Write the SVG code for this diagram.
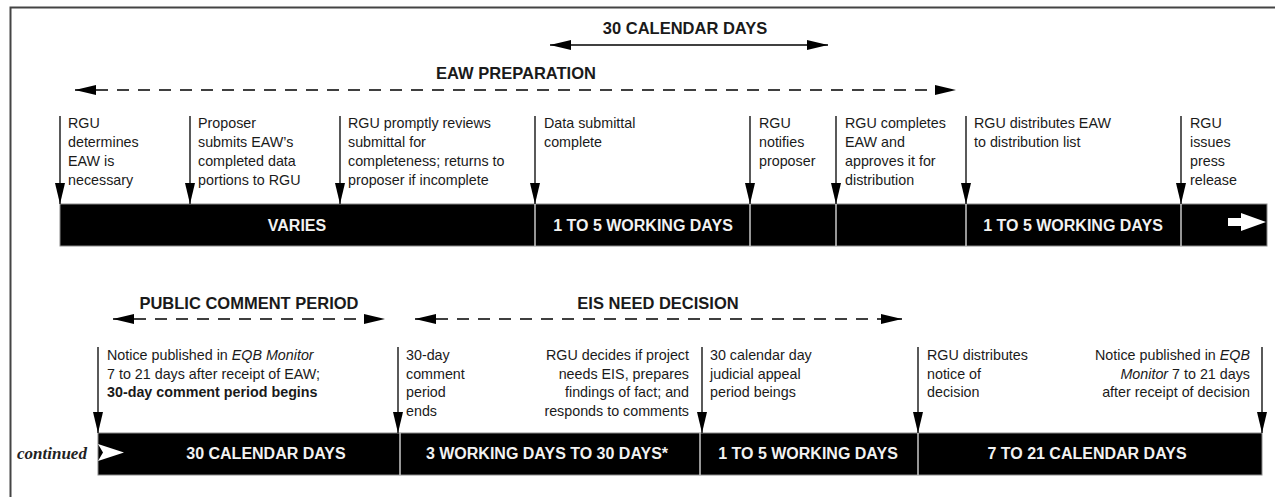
<svg xmlns="http://www.w3.org/2000/svg" width="1275" height="497" viewBox="0 0 1275 497">
<style>
.t{font-family:"Liberation Sans",Arial,sans-serif;font-size:14.3px;fill:#1a1a1a}
.h{font-family:"Liberation Sans",Arial,sans-serif;font-size:16.5px;font-weight:bold;fill:#1a1a1a;text-anchor:middle}
.bl{font-family:"Liberation Sans",Arial,sans-serif;font-size:16px;font-weight:bold;fill:#f2f2f2;text-anchor:middle}
.bar{fill:#000;stroke:#8a8a8a;stroke-width:1}
.div{stroke:#c8c8c8;stroke-width:1.5}
.v{stroke:#000;stroke-width:1.3;fill:none;marker-end:url(#ah)}
.d{stroke:#000;stroke-width:1.6;fill:none;stroke-dasharray:12 9;marker-start:url(#ah);marker-end:url(#ah)}
.s{stroke:#000;stroke-width:1.6;fill:none;marker-start:url(#ah);marker-end:url(#ah)}
.e{text-anchor:end}
</style>
<defs>
<marker id="ah" viewBox="0 0 21 10" markerWidth="21" markerHeight="10" refX="21" refY="5" orient="auto-start-reverse" markerUnits="userSpaceOnUse">
<path d="M0,0 L21,5 L0,10 z" fill="#000"/>
</marker>
</defs>
<rect width="1275" height="497" fill="#fff"/>
<g id="frame" stroke="#444" stroke-width="2" fill="none">
<path d="M10.5,497 V7.5 H1275"/>
</g>

<g id="top-bar">
<rect class="bar" x="60" y="204" width="1207" height="42"/>
<line class="div" x1="535" y1="204" x2="535" y2="246"/>
<line class="div" x1="750" y1="204" x2="750" y2="246"/>
<line class="div" x1="836" y1="204" x2="836" y2="246"/>
<line class="div" x1="966" y1="204" x2="966" y2="246"/>
<line class="div" x1="1181" y1="204" x2="1181" y2="246"/>
<text class="bl" x="297" y="231">VARIES</text>
<text class="bl" x="643" y="231">1 TO 5 WORKING DAYS</text>
<text class="bl" x="1073" y="231">1 TO 5 WORKING DAYS</text>
<path d="M1228,218 H1241 V213 L1266,222 L1241,231 V226 H1228 Z" fill="#fff"/>
</g>

<g id="bottom-bar">
<rect class="bar" x="98" y="433" width="1164" height="42"/>
<line class="div" x1="400" y1="433" x2="400" y2="475"/>
<line class="div" x1="700" y1="433" x2="700" y2="475"/>
<line class="div" x1="918" y1="433" x2="918" y2="475"/>
<text class="bl" x="266" y="459">30 CALENDAR DAYS</text>
<text class="bl" x="547" y="459">3 WORKING DAYS TO 30 DAYS*</text>
<text class="bl" x="808" y="459">1 TO 5 WORKING DAYS</text>
<text class="bl" x="1087" y="459">7 TO 21 CALENDAR DAYS</text>
<path d="M98,444 L124,452.5 L98,461 L103,452.5 Z" fill="#fff"/>
<text x="17" y="459" font-family="'Liberation Serif','Times New Roman',serif" font-size="17" font-style="italic" font-weight="bold" fill="#222">continued</text>
</g>

<g id="spans">
<text class="h" x="685" y="34">30 CALENDAR DAYS</text>
<text class="h" x="516" y="79">EAW PREPARATION</text>
<text class="h" x="249" y="309">PUBLIC COMMENT PERIOD</text>
<text class="h" x="658" y="309">EIS NEED DECISION</text>
</g>

<g id="connectors">
<line class="s" x1="550" y1="45" x2="828" y2="45"/>
<line class="d" x1="75" y1="90" x2="956" y2="90"/>
<line class="d" x1="113" y1="319" x2="385" y2="319"/>
<line class="d" x1="415" y1="319" x2="902" y2="319"/>
<line class="v" x1="60" y1="116" x2="60" y2="204"/>
<line class="v" x1="190" y1="116" x2="190" y2="204"/>
<line class="v" x1="340" y1="116" x2="340" y2="204"/>
<line class="v" x1="535" y1="116" x2="535" y2="204"/>
<line class="v" x1="750" y1="116" x2="750" y2="204"/>
<line class="v" x1="836" y1="116" x2="836" y2="204"/>
<line class="v" x1="966" y1="116" x2="966" y2="204"/>
<line class="v" x1="1181" y1="116" x2="1181" y2="204"/>
<line class="v" x1="98" y1="347" x2="98" y2="433"/>
<line class="v" x1="398" y1="347" x2="398" y2="433"/>
<line class="v" x1="702" y1="347" x2="702" y2="433"/>
<line class="v" x1="918" y1="347" x2="918" y2="433"/>
<line class="v" x1="1262" y1="347" x2="1262" y2="433"/>
</g>

<g id="ev1"><text class="t" x="68" y="128"><tspan x="68">RGU</tspan><tspan x="68" dy="19">determines</tspan><tspan x="68" dy="19">EAW is</tspan><tspan x="68" dy="19">necessary</tspan></text></g>
<g id="ev2"><text class="t" x="198" y="128"><tspan x="198">Proposer</tspan><tspan x="198" dy="19">submits EAW’s</tspan><tspan x="198" dy="19">completed data</tspan><tspan x="198" dy="19">portions to RGU</tspan></text></g>
<g id="ev3"><text class="t" x="348" y="128"><tspan x="348">RGU promptly reviews</tspan><tspan x="348" dy="19">submittal for</tspan><tspan x="348" dy="19">completeness; returns to</tspan><tspan x="348" dy="19">proposer if incomplete</tspan></text></g>
<g id="ev4"><text class="t" x="544" y="128"><tspan x="544">Data submittal</tspan><tspan x="544" dy="19">complete</tspan></text></g>
<g id="ev5"><text class="t" x="759" y="128"><tspan x="759">RGU</tspan><tspan x="759" dy="19">notifies</tspan><tspan x="759" dy="19">proposer</tspan></text></g>
<g id="ev6"><text class="t" x="845" y="128"><tspan x="845">RGU completes</tspan><tspan x="845" dy="19">EAW and</tspan><tspan x="845" dy="19">approves it for</tspan><tspan x="845" dy="19">distribution</tspan></text></g>
<g id="ev7"><text class="t" x="974" y="128"><tspan x="974">RGU distributes EAW</tspan><tspan x="974" dy="19">to distribution list</tspan></text></g>
<g id="ev8"><text class="t" x="1190" y="128"><tspan x="1190">RGU</tspan><tspan x="1190" dy="19">issues</tspan><tspan x="1190" dy="19">press</tspan><tspan x="1190" dy="19">release</tspan></text></g>

<g id="ev9"><text class="t" x="107" y="360"><tspan x="107">Notice published in <tspan font-style="italic">EQB Monitor</tspan></tspan><tspan x="107" dy="18.5">7 to 21 days after receipt of EAW;</tspan><tspan x="107" dy="18.5" font-weight="bold">30-day comment period begins</tspan></text></g>
<g id="ev10"><text class="t" x="406" y="360"><tspan x="406">30-day</tspan><tspan x="406" dy="18.5">comment</tspan><tspan x="406" dy="18.5">period</tspan><tspan x="406" dy="18.5">ends</tspan></text></g>
<g id="ev11"><text class="t e" x="689" y="360"><tspan x="689">RGU decides if project</tspan><tspan x="689" dy="18.5">needs EIS, prepares</tspan><tspan x="689" dy="18.5">findings of fact; and</tspan><tspan x="689" dy="18.5">responds to comments</tspan></text></g>
<g id="ev12"><text class="t" x="710" y="360"><tspan x="710">30 calendar day</tspan><tspan x="710" dy="18.5">judicial appeal</tspan><tspan x="710" dy="18.5">period beings</tspan></text></g>
<g id="ev13"><text class="t" x="927" y="360"><tspan x="927">RGU distributes</tspan><tspan x="927" dy="18.5">notice of</tspan><tspan x="927" dy="18.5">decision</tspan></text></g>
<g id="ev14"><text class="t e" x="1250" y="360"><tspan x="1250">Notice published in <tspan font-style="italic">EQB</tspan></tspan><tspan x="1250" dy="18.5"><tspan font-style="italic">Monitor</tspan> 7 to 21 days</tspan><tspan x="1250" dy="18.5">after receipt of decision</tspan></text></g>
</svg>
